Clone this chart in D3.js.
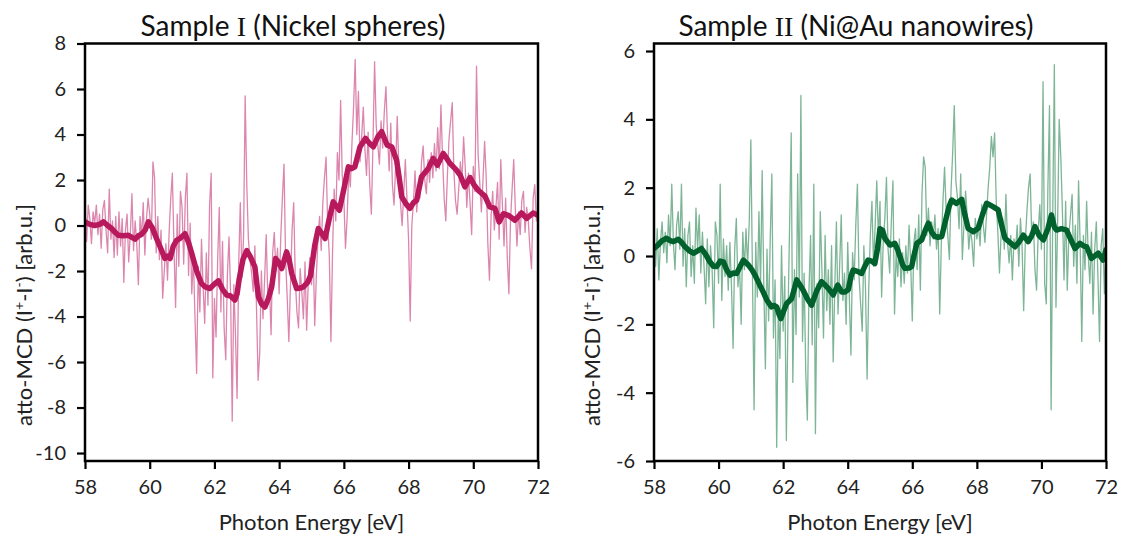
<!DOCTYPE html>
<html><head><meta charset="utf-8">
<script src="https://cdn.jsdelivr.net/npm/d3@7"></script>
<style>body{margin:0;background:#fff;} svg{display:block;font-family:Lato,'Open Sans',sans-serif;}</style>
</head><body><svg id="chart" width="1135" height="540"></svg>
<script>
// ---------- DATA ----------
const energyStart = 58, energyStep = 0.05;   // sampling grid of the raw spectra
const xTicks = [58, 60, 62, 64, 66, 68, 70, 72];
const yTicksI = [8, 6, 4, 2, 0, -2, -4, -6, -8, -10];
const yTicksII = [6, 4, 2, 0, -2, -4, -6];

// Sample I raw atto-MCD (58.00 .. 72.00 eV)
const rawI = [
 0.8,-0.7,0.9,0.3,-0.8,0.6,0.1,0.9,-0.4,0.5,-1.0,0.7,1.1,-0.2,-1.2,1.6,-0.6,0.2,-1.4,0.4,
 -1.3,0.6,-0.9,0.3,-2.5,-0.2,0.5,-1.6,-0.4,1.4,-1.1,0.2,-0.8,-2.6,0.4,-0.5,1.0,-1.3,0.3,1.2,
 0.5,-0.6,2.8,2.1,-1.2,0.4,-1.5,-0.2,-3.2,-2.0,-0.8,-2.4,-0.3,1.2,2.3,-1.0,-3.6,0.5,-1.8,1.5,
 0.8,-1.7,1.2,2.3,-2.2,0.1,-3.0,-1.4,-4.1,-6.5,-1.8,-3.8,-0.6,-2.7,-4.3,-1.2,-3.5,0.9,2.3,-6.7,
 -3.2,-4.9,-1.5,0.8,-3.8,-0.7,-4.5,-5.9,-2.2,-0.5,-3.0,-8.6,-2.6,-4.8,-7.6,-1.7,1.0,-2.3,-0.5,5.7,
 1.8,-0.6,-1.5,-2.1,-2.9,-0.9,-3.6,-6.8,-5.6,-2.0,-4.1,-2.4,-0.4,-3.2,-2.6,-4.8,-1.2,-0.3,-2.0,-1.0,
 -3.0,-0.5,1.2,2.7,-1.5,-3.2,-5.1,-2.6,-0.2,1.0,-2.4,-3.8,-4.5,-1.9,-2.9,-4.1,-1.6,-4.6,-2.5,-1.4,
 -2.6,-1.0,-4.4,-2.2,-0.6,0.4,-1.1,1.0,2.1,3.0,0.0,-1.3,-5.1,-1.2,1.6,0.2,3.2,2.0,5.5,2.2,
 1.2,-1.0,0.3,2.4,1.7,3.6,5.2,7.3,4.0,5.9,2.8,3.9,5.2,3.4,2.2,4.1,1.8,0.5,3.6,7.2,
 4.4,3.5,2.7,4.6,3.4,5.0,6.1,4.0,2.4,4.5,1.8,0.9,2.6,4.8,2.5,1.0,0.0,1.4,2.9,1.2,
 -0.6,-4.2,0.0,1.0,2.4,0.6,1.5,1.2,2.8,3.5,2.0,1.4,2.9,1.9,3.2,2.1,3.6,2.4,4.3,2.5,
 5.3,3.0,1.2,0.2,2.2,3.8,4.6,5.4,2.4,1.1,0.5,1.6,2.8,1.9,3.9,2.6,0.8,2.3,1.0,-0.4,
 2.6,1.5,7.0,3.1,1.9,0.6,2.0,3.7,2.1,-0.8,-2.4,0.4,1.5,-0.2,0.8,1.9,-0.6,2.9,0.9,-0.9,
 1.2,-1.4,-3.0,0.2,1.6,2.9,0.7,-0.9,0.6,-0.4,1.1,1.5,-0.3,0.8,0.2,-1.0,-1.9,1.2,1.8,0.2,
 0.8
];

// Sample II raw atto-MCD (58.00 .. 72.00 eV)
const rawII = [
 0.6,-0.3,0.8,-0.7,0.4,1.0,0.1,0.7,-0.2,1.2,0.3,2.1,0.4,-0.4,0.9,1.3,0.2,2.1,-0.3,0.8,
 -0.9,0.6,1.0,-0.6,0.3,-0.8,1.4,0.2,1.2,-0.5,0.7,-0.3,-1.4,0.5,-0.9,0.3,-0.4,-2.1,1.0,0.6,
 -0.8,2.1,-1.3,0.5,-0.6,0.3,-1.0,0.4,-0.9,-2.7,0.2,1.1,-0.9,-0.3,-2.0,0.7,-0.4,0.8,-0.3,1.0,
 3.4,-0.6,-4.5,0.4,-1.2,1.3,-0.9,2.5,-0.8,-3.3,0.2,-1.9,0.5,2.4,-2.4,-0.7,-5.6,-1.5,-3.0,0.3,
 -2.2,-0.6,-5.4,-1.8,0.9,3.6,-3.7,-0.4,-2.3,2.4,-1.2,4.7,-2.5,-0.5,-3.4,-4.8,-1.0,0.6,-2.6,2.1,
 -5.2,-0.8,-2.1,1.3,-0.4,-2.4,0.6,-1.6,-0.4,-2.0,0.3,-3.1,-0.9,1.0,-1.7,-0.3,1.2,-1.3,-0.5,-2.0,
 0.4,-1.2,-2.9,0.1,-0.7,0.9,2.1,-0.6,-1.4,-2.2,0.3,-0.9,-3.6,-1.0,0.6,1.6,-0.3,0.9,2.2,0.5,
 1.6,-1.2,0.4,1.1,2.3,0.2,-0.5,1.0,2.2,-1.7,0.1,-0.6,0.5,-0.9,0.1,-0.8,0.3,-0.5,0.9,-0.2,
 -1.9,0.4,0.8,-0.4,1.2,-1.0,1.8,2.9,2.6,0.6,1.4,0.3,1.0,0.5,1.2,0.2,0.8,-1.7,0.4,1.6,
 2.6,1.3,0.6,-0.1,1.9,3.0,4.4,2.2,1.7,0.8,2.4,-0.1,0.9,1.9,1.2,0.2,0.8,0.4,-0.3,1.1,
 0.5,0.9,0.3,1.5,0.9,0.4,1.2,2.0,2.6,3.5,2.9,3.6,1.6,0.7,-0.5,0.6,1.1,0.2,1.8,0.4,
 -0.2,0.6,-0.7,0.5,0.2,0.9,-0.3,1.1,0.3,-1.6,0.4,1.3,2.0,2.4,0.6,1.0,-0.4,-1.0,0.7,1.5,
 0.2,5.1,-0.8,-1.4,2.0,4.4,-4.5,1.2,5.6,-1.5,0.9,4.0,2.9,1.3,-0.7,1.6,-1.0,0.6,1.2,1.8,
 -0.3,0.9,-0.8,2.2,0.3,-2.5,0.6,-0.4,1.6,0.0,-0.8,0.7,-1.7,0.2,1.0,-0.6,-2.5,0.3,0.8,-1.1,
 0.2
];

// Sample I smoothed curve
const smoothEnergyI = [58.0,58.15,58.3,58.45,58.57,58.7,58.82,58.93,59.03,59.18,59.34,59.45,59.55,59.65,59.75,59.86,59.96,60.08,60.21,60.34,60.47,60.55,60.63,60.73,60.83,60.95,61.09,61.2,61.3,61.45,61.6,61.72,61.86,61.98,62.12,62.25,62.38,62.5,62.63,62.7,62.76,62.88,63.0,63.12,63.25,63.36,63.46,63.56,63.67,63.77,63.89,63.98,64.08,64.23,64.31,64.39,64.54,64.65,64.75,64.88,64.97,65.1,65.21,65.32,65.42,65.55,65.67,65.77,65.86,66.0,66.14,66.24,66.34,66.5,66.67,66.8,66.91,67.05,67.17,67.26,67.34,67.48,67.63,67.72,67.79,67.92,68.04,68.15,68.25,68.4,68.61,68.76,68.89,69.07,69.18,69.28,69.48,69.6,69.74,69.9,70.02,70.15,70.36,70.51,70.67,70.8,70.93,71.08,71.29,71.49,71.65,71.85,72.0];
const smoothValueI = [0.16,0.05,0.0,0.05,0.16,0.0,-0.13,-0.3,-0.43,-0.45,-0.43,-0.52,-0.6,-0.45,-0.38,-0.2,0.16,-0.1,-0.57,-1.0,-1.45,-1.35,-1.45,-0.9,-0.65,-0.55,-0.36,-0.75,-1.23,-2.0,-2.55,-2.7,-2.77,-2.6,-2.43,-2.8,-3.06,-3.1,-3.28,-3.0,-2.4,-1.5,-1.1,-1.4,-1.82,-3.14,-3.45,-3.58,-3.2,-2.7,-1.45,-1.6,-1.89,-1.16,-1.5,-2.11,-2.77,-2.75,-2.7,-2.5,-2.2,-0.87,-0.13,-0.35,-0.57,0.3,1.04,0.85,0.67,1.6,2.58,2.5,2.58,3.46,3.83,3.6,3.46,3.9,4.12,3.8,3.53,3.46,2.87,2.0,1.26,0.95,0.75,1.0,1.11,2.14,2.51,2.95,2.65,3.17,2.95,2.73,2.43,2.2,1.7,2.11,1.8,1.55,1.29,0.82,0.75,0.16,0.52,0.45,0.23,0.55,0.31,0.55,0.45];

// Sample II smoothed curve
const smoothEnergyII = [58.0,58.1,58.25,58.39,58.5,58.6,58.75,58.85,58.96,59.1,59.22,59.35,59.47,59.6,59.73,59.84,59.94,60.05,60.15,60.25,60.35,60.45,60.56,60.67,60.77,60.85,60.92,61.03,61.13,61.25,61.38,61.5,61.64,61.72,61.8,61.87,61.93,62.02,62.11,62.26,62.35,62.42,62.52,62.62,62.75,62.88,63.05,63.19,63.3,63.4,63.55,63.69,63.81,63.92,64.02,64.1,64.17,64.3,64.43,64.53,64.63,64.74,64.84,64.92,65.0,65.08,65.15,65.31,65.46,65.54,65.62,65.7,65.77,65.9,65.98,66.06,66.14,66.29,66.4,66.5,66.6,66.7,66.8,66.91,67.06,67.14,67.22,67.37,67.53,67.63,67.73,67.89,68.04,68.17,68.3,68.4,68.51,68.66,68.77,68.87,69.02,69.18,69.3,69.44,69.59,69.7,69.8,69.93,70.06,70.2,70.31,70.4,70.47,70.62,70.78,70.9,71.04,71.19,71.3,71.4,71.55,71.65,71.76,71.91,72.0];
const smoothValueII = [0.22,0.3,0.45,0.52,0.45,0.42,0.49,0.4,0.27,0.15,0.08,0.15,0.22,0.05,-0.17,-0.3,-0.31,-0.15,-0.17,-0.4,-0.56,-0.5,-0.51,-0.3,-0.12,-0.2,-0.26,-0.4,-0.56,-0.8,-1.05,-1.3,-1.49,-1.45,-1.49,-1.7,-1.83,-1.6,-1.39,-1.25,-0.95,-0.7,-0.85,-1.0,-1.25,-1.44,-1.0,-0.75,-0.85,-0.95,-1.14,-0.85,-1.05,-1.05,-0.98,-0.6,-0.41,-0.45,-0.51,-0.3,-0.12,-0.15,-0.22,0.2,0.8,0.75,0.52,0.32,0.37,0.2,-0.02,-0.25,-0.36,-0.35,-0.31,0.05,0.37,0.47,0.75,0.96,0.7,0.57,0.55,0.57,1.15,1.45,1.64,1.54,1.66,1.2,0.81,0.71,0.81,1.2,1.54,1.5,1.44,1.35,0.9,0.52,0.4,0.27,0.4,0.61,0.42,0.6,0.86,0.6,0.47,0.8,1.2,0.85,0.76,0.8,0.76,0.5,0.22,0.37,0.3,0.27,-0.07,0.0,0.08,-0.12,0.18];

// ---------- DRAWING ----------
const svg = d3.select("#chart");
const panels = [
  {title: ["Sample ", "I", " (Nickel spheres)"], raw: rawI, sE: smoothEnergyI, sV: smoothValueI,
   yDomain: [-10.35, 8], yTicks: yTicksI, left: 85, right: 538, top: 43.5, bottom: 461,
   rawColor: "#dc86ae", smoothColor: "#b8195c", titleX: 293, yLabelX: 32},
  {title: ["Sample ", "II", " (Ni@Au nanowires)"], raw: rawII, sE: smoothEnergyII, sV: smoothValueII,
   yDomain: [-6, 6.22], yTicks: yTicksII, left: 654, right: 1106, top: 43.5, bottom: 461,
   rawColor: "#7db596", smoothColor: "#00612d", titleX: 856, yLabelX: 600}
];

panels.forEach((p, pi) => {
  const x = d3.scaleLinear().domain([58, 72]).range([p.left, p.right]);
  const y = d3.scaleLinear().domain(p.yDomain).range([p.bottom, p.top]);
  const g = svg.append("g");
  const clipId = "clip" + pi;
  g.append("clipPath").attr("id", clipId).append("rect")
    .attr("x", p.left).attr("y", p.top).attr("width", p.right - p.left).attr("height", p.bottom - p.top);

  const rawData = p.raw.map((v, i) => [energyStart + i * energyStep, v]);
  const line = d3.line().x(d => x(d[0])).y(d => y(d[1]));
  g.append("path").datum(rawData).attr("clip-path", `url(#${clipId})`)
    .attr("d", line).attr("fill", "none").attr("stroke", p.rawColor)
    .attr("stroke-width", 1.3).attr("stroke-linejoin", "round");
  const smoothData = p.sE.map((e, i) => [e, p.sV[i]]);
  g.append("path").datum(smoothData).attr("clip-path", `url(#${clipId})`)
    .attr("d", line).attr("fill", "none").attr("stroke", p.smoothColor)
    .attr("stroke-width", 5.5).attr("stroke-linejoin", "round").attr("stroke-linecap", "round");

  // frame
  g.append("rect").attr("x", p.left).attr("y", p.top).attr("width", p.right - p.left)
    .attr("height", p.bottom - p.top).attr("fill", "none").attr("stroke", "#000").attr("stroke-width", 2.5);

  // axes
  const yAxis = d3.axisLeft(y).tickValues(p.yTicks).tickSize(8).tickPadding(11).tickFormat(d => String(d));
  const ya = g.append("g").attr("transform", `translate(${p.left},0)`).call(yAxis);
  const xAxis = d3.axisBottom(x).tickValues(xTicks).tickSize(8).tickPadding(11).tickFormat(d => String(d));
  const xa = g.append("g").attr("transform", `translate(0,${p.bottom})`).call(xAxis);
  [ya, xa].forEach(a => {
    a.select(".domain").remove();
    a.selectAll(".tick line").attr("stroke", "#000").attr("stroke-width", 2.2);
    a.selectAll(".tick text").attr("fill", "#222").style("font-size", "20px").style("font-family", "Lato,'Open Sans',sans-serif");
  });

  // title
  const t = g.append("text").attr("x", p.titleX).attr("y", 36).attr("text-anchor", "middle")
    .attr("fill", "#111").style("font-size", "28px");
  t.append("tspan").text(p.title[0]);
  t.append("tspan").style("font-family", "'Liberation Serif','DejaVu Serif',serif").text(p.title[1]);
  t.append("tspan").text(p.title[2]);

  // x label
  g.append("text").attr("x", (p.left + p.right) / 2).attr("y", 530).attr("text-anchor", "middle")
    .attr("fill", "#222").style("font-size", "22px").text("Photon Energy [eV]");

  // y label
  const yl = g.append("text").attr("transform", `translate(${p.yLabelX},${315}) rotate(-90)`)
    .attr("text-anchor", "middle").attr("fill", "#222").style("font-size", "22px");
  yl.append("tspan").text("atto-MCD (I");
  yl.append("tspan").attr("dy", -8).style("font-size", "14px").text("+");
  yl.append("tspan").attr("dy", 8).text("-I");
  yl.append("tspan").attr("dy", -8).style("font-size", "14px").text("-");
  yl.append("tspan").attr("dy", 8).text(") [arb.u.]");
});
</script>
</body></html>
